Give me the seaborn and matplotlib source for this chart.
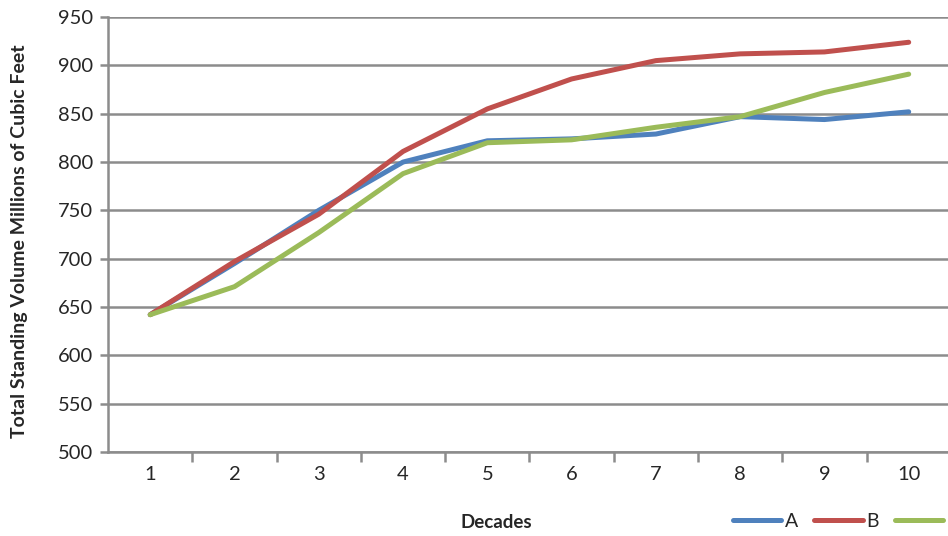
import pandas as pd
import numpy as np
import matplotlib.pyplot as plt
import seaborn as sns

decades = [1, 2, 3, 4, 5, 6, 7, 8, 9, 10]
series_a = [642, 695, 750, 800, 822, 824, 829, 847, 844, 852]
series_b = [642, 697, 746, 811, 855, 886, 905, 912, 914, 924]
series_c = [642, 671, 727, 788, 820, 823, 836, 847, 872, 891]
series_names = ["A", "B", "C"]
legend_labels = ["A", "B", ""]  # third label falls off the picture in the original

df = pd.DataFrame({
    "Decade": decades * 3,
    "Volume": series_a + series_b + series_c,
    "Series": [n for n in series_names for _ in decades],
})

sns.set_theme(style="white")
plt.rcParams['font.family'] = ['Lato', 'DejaVu Sans']

fig = plt.figure(figsize=(9.48, 5.36), dpi=100)
ax = fig.add_axes([0.114, 0.157, 0.889, 0.811])

colors = ['#4F81BD', '#C0504D', '#9BBB59']
sns.lineplot(data=df, x="Decade", y="Volume", hue="Series", palette=colors,
             linewidth=3.6, ax=ax, legend=False, solid_capstyle='round')

grid_c = '#8c8c8c'
ax.set_xlim(0.5, 10.5)
ax.set_ylim(500, 950)
ax.set_yticks(np.arange(500, 951, 50))
ax.set_xticks(decades)
ax.set_xticks(np.arange(1.5, 10.5, 1), minor=True)
ax.yaxis.grid(True, color=grid_c, linewidth=1.8)
ax.xaxis.grid(False)
ax.set_axisbelow(True)
for s in ['top', 'right']:
    ax.spines[s].set_visible(False)
for s in ['left', 'bottom']:
    ax.spines[s].set_color(grid_c)
    ax.spines[s].set_linewidth(1.8)
ax.tick_params(axis='y', which='major', direction='out', length=6, width=1.8,
               color=grid_c, labelsize=14.5, pad=5, left=True)
ax.tick_params(axis='x', which='major', length=0, labelsize=14.5, pad=10)
ax.tick_params(axis='x', which='minor', direction='out', length=7, width=1.8,
               color=grid_c, bottom=True)

ax.set_xlabel("")
ax.set_ylabel("")
fig.text(0.021, 0.55, "Total Standing Volume Millions of Cubic Feet",
         rotation=90, ha='center', va='center', fontsize=14, fontweight='bold')
fig.text(0.524, 0.026, "Decades", ha='center', va='center', fontsize=13.5,
         fontweight='bold')

handles = [plt.Line2D([], [], color=c, linewidth=3.6, solid_capstyle='round')
           for c in colors]
fig.legend(handles, legend_labels, loc='center left', ncol=3,
           bbox_to_anchor=(0.773, 0.027), frameon=False, fontsize=14,
           handlelength=2.5, handletextpad=0.2, columnspacing=0.8,
           borderaxespad=0, borderpad=0)

fig.savefig("out.png", dpi=100)
